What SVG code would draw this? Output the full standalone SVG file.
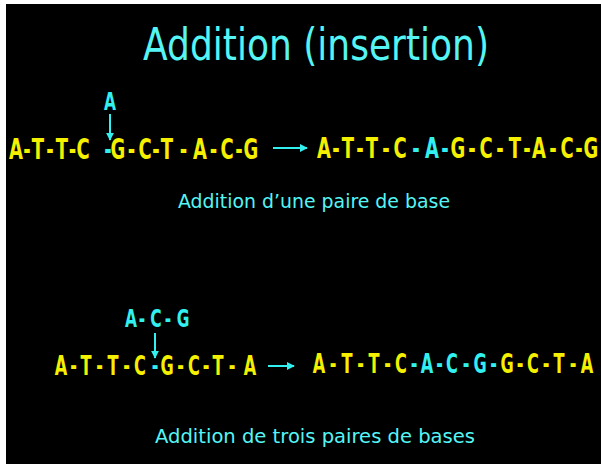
<svg xmlns="http://www.w3.org/2000/svg" width="601" height="464" viewBox="0 0 601 464">
  <defs>
    <marker id="head" viewBox="0 0 10 10" refX="9" refY="5" markerWidth="4" markerHeight="4" orient="auto" markerUnits="strokeWidth">
      <path d="M0,0 L10,5 L0,10 z" fill="#33f0f0"/>
    </marker>
  </defs>
  <style>
    .title { font-family: "DejaVu Sans", sans-serif; fill: #55f5f5; }
    .seq { font-family: "DejaVu Sans", sans-serif; font-weight: bold; fill: #f5f000; text-anchor: middle; }
    .ins { fill: #33f0f0; }
    .arrow { stroke: #33f0f0; stroke-width: 2; fill: none; marker-end: url(#head); }
  </style>

  <!-- page with a thin white margin top and left -->
  <rect x="0" y="0" width="601" height="464" fill="#ffffff"/>
  <rect x="6" y="4" width="595" height="460" fill="#000000"/>

  <g id="title">
    <text class="title" x="143" y="60" font-size="45" textLength="346" lengthAdjust="spacingAndGlyphs">Addition (insertion)</text>
  </g>

  <!-- single base insertion; glyphs condensed horizontally by the 0.62 scale -->
  <g id="insert-one" transform="translate(0,110) scale(0.62,1)">
    <text class="seq ins" x="177.4" y="0" font-size="25">A</text>
  </g>
  <g id="seq-one-before" transform="translate(0,159) scale(0.62,1)">
    <text class="seq" font-size="29" y="0" x="25.81 43.55 61.29 80.65 100 116.94 133.87 174.19 190.32 212.1 233.87 251.61 269.35 295.97 322.58 344.35 366.13 385.48 404.84">A-T-T-C<tspan class="ins">-</tspan>G-C-T-A-C-G</text>
  </g>
  <g id="seq-one-after" transform="translate(0,158) scale(0.62,1)">
    <text class="seq" font-size="29" y="0" x="522.58 541.94 561.29 580.65 600 622.58 645.16 670.97 696.77 717.74 738.71 761.29 783.87 806.45 830.65 850 869.35 891.94 914.52 933.87 953.23">A-T-T-C<tspan class="ins">-A-</tspan>G-C-T-A-C-G</text>
  </g>
  <g id="caption-one">
    <text class="title" x="178" y="208" font-size="20" textLength="272" lengthAdjust="spacingAndGlyphs">Addition d’une paire de base</text>
  </g>

  <!-- three base insertion -->
  <g id="insert-three" transform="translate(0,327) scale(0.62,1)">
    <text class="seq ins" font-size="25" y="0" x="211.3 229 251.6 271 295.2">A-C-G</text>
  </g>
  <g id="seq-three-before" transform="translate(0,375) scale(0.62,1)">
    <text class="seq" font-size="26" y="0" x="98.39 118.55 138.71 160.48 182.26 204.03 225.81 250 269.35 291.13 312.9 332.26 351.61 374.19 403.23">A-T-T-C<tspan class="ins">-</tspan>G-C-T-A</text>
  </g>
  <g id="seq-three-after" transform="translate(0,373) scale(0.62,1)">
    <text class="seq" font-size="26" y="0" x="514.52 537.1 559.68 581.45 603.23 625 646.77 667.74 688.71 708.87 729.03 751.61 774.19 795.97 817.74 838.71 859.68 880.65 901.61 924.19 946.77">A-T-T-C<tspan class="ins">-A-C-G-</tspan>G-C-T-A</text>
  </g>
  <g id="caption-three">
    <text class="title" x="155" y="443" font-size="20" textLength="320" lengthAdjust="spacingAndGlyphs">Addition de trois paires de bases</text>
  </g>

  <g id="connectors">
    <line class="arrow" x1="110" y1="114" x2="110" y2="140"/>
    <line class="arrow" x1="273" y1="148" x2="307" y2="148"/>
    <line class="arrow" x1="155" y1="333" x2="155" y2="358"/>
    <line class="arrow" x1="268" y1="366" x2="294" y2="366"/>
  </g>
</svg>
